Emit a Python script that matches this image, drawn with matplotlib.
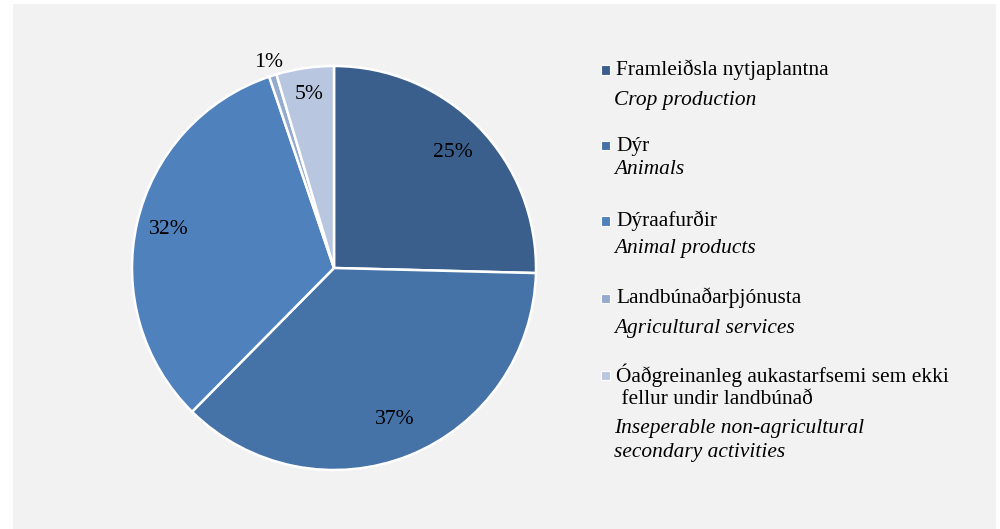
import numpy as np
import matplotlib
matplotlib.use("Agg")
import matplotlib.pyplot as plt
from matplotlib.patches import Rectangle

values = [25.4, 37.0, 32.4, 0.6, 4.6]
pct_labels = ["25%", "37%", "32%", "1%", "5%"]
names_is = ["Framleiðsla nytjaplantna", "Dýr", "Dýraafurðir", "Landbúnaðarþjónusta",
            "Óaðgreinanleg aukastarfsemi sem ekki\n fellur undir landbúnað"]
names_en = ["Crop production", "Animals", "Animal products", "Agricultural services",
            "Inseperable non-agricultural\nsecondary activities"]
colors = ["#3B5F8C", "#4572A7", "#4F81BD", "#94AACF", "#B9C6E0"]

plt.rcParams['font.family'] = ['Liberation Serif', 'DejaVu Serif']

W, H = 1000, 529
fig = plt.figure(figsize=(W / 100, H / 100), dpi=100)
fig.patch.set_facecolor("white")
fig.patches.append(Rectangle((13 / W, 0), (996 - 13) / W, (529 - 4) / H,
                             transform=fig.transFigure, facecolor="#F2F2F2",
                             edgecolor="none", zorder=-10))

cx, cy, r = 334, 268, 202
ax = fig.add_axes([(cx - r) / W, (H - cy - r) / H, 2 * r / W, 2 * r / H])
ax.set_facecolor("none")
wedges, _ = ax.pie(values, colors=colors, startangle=90, counterclock=False,
                   radius=1.0, wedgeprops=dict(edgecolor="white", linewidth=1.8))
ax.set_xlim(-1, 1)
ax.set_ylim(-1, 1)
ax.set_aspect("equal")
ax.axis("off")

dists = [0.82, 0.81, 0.84, 1.07, 0.87]
for w, lab, d in zip(wedges, pct_labels, dists):
    ang = np.deg2rad((w.theta1 + w.theta2) / 2)
    ax.text(d * np.cos(ang), d * np.sin(ang), lab, ha="center", va="center",
            fontsize=15.6, color="black", clip_on=False)

# custom legend
row_y = [70, 146, 221, 298, 375]
en_y = [100, 170, 248, 328, 428]
for c, nis, nen, yi, ye in zip(colors, names_is, names_en, row_y, en_y):
    fig.patches.append(Rectangle((601 / W, 1 - (yi + 4.5) / H), 9 / W, 9 / H,
                                 transform=fig.transFigure, facecolor=c,
                                 edgecolor="white", linewidth=0.8))
    for k, ln in enumerate(nis.split("\n")):
        fig.text(616 / W, 1 - (yi + k * 24) / H, ln, ha="left", va="center",
                 fontsize=15.4)
    for k, ln in enumerate(nen.split("\n")):
        fig.text(614 / W, 1 - (ye + k * 24) / H, ln, ha="left", va="center",
                 fontsize=15.4, style="italic")

fig.savefig("out.png", dpi=100, facecolor=fig.get_facecolor())
